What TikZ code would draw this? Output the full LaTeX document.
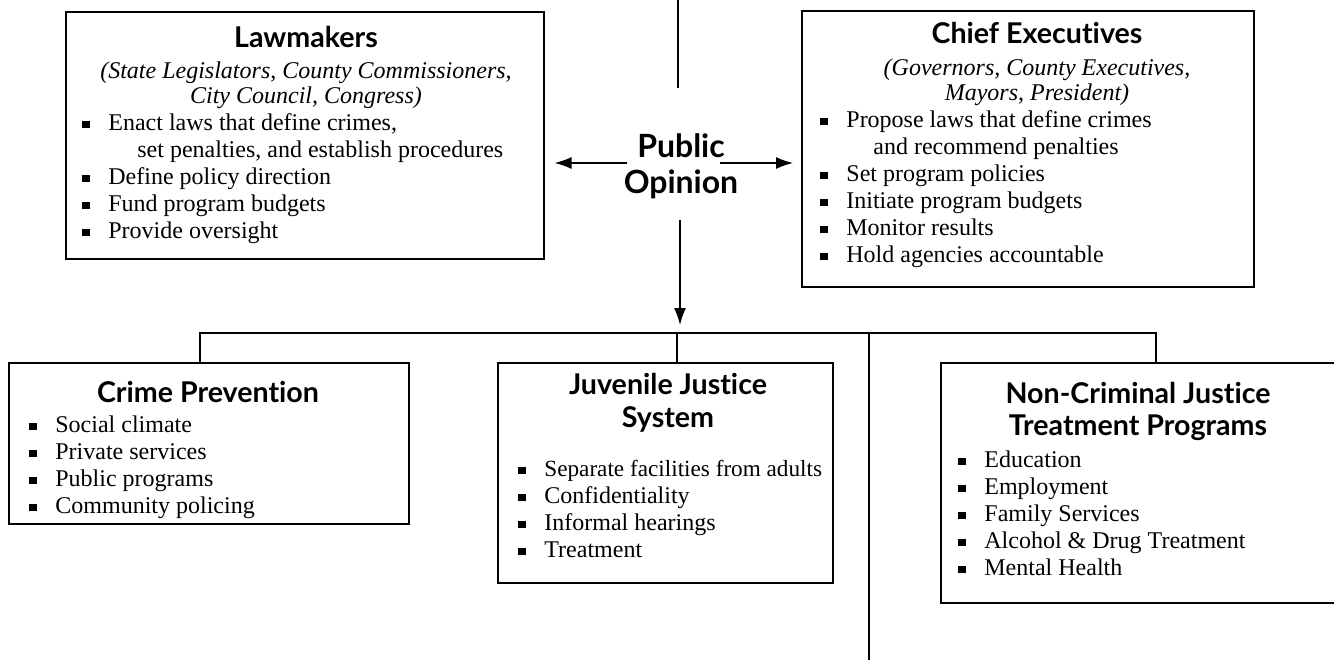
\documentclass[tikz,border=0pt]{standalone}
\usepackage{fontspec}
\setmainfont{Liberation Serif}
\newfontfamily\headfont[Ligatures=NoCommon]{Lato}
\usetikzlibrary{arrows.meta,%
                positioning}

\newcommand{\sqbul}{\makebox[13pt][l]{\rule[0.8pt]{3.8pt}{3.8pt}}}

\tikzset{
  box/.style={draw, line width=0.8pt, rectangle, inner sep=0pt, anchor=north west},
  head/.style={anchor=base, inner sep=0pt, font=\fontsize{14.3}{17}\headfont\bfseries},
  bighead/.style={anchor=base, inner sep=0pt, font=\fontsize{16}{19}\headfont\bfseries},
  sub/.style={anchor=base, inner sep=0pt, font=\fontsize{12}{14}\itshape},
  item/.style={anchor=base west, inner sep=0pt, font=\fontsize{12}{14}\selectfont},
  link/.style={line width=0.7pt},
  arr/.style={line width=0.7pt, -{Latex[length=8.5pt,width=6pt]}}
}

\begin{document}
\begin{tikzpicture}[x=0.5pt,y=-0.5pt]
\useasboundingbox (0,0) rectangle (1334,659);

% boxes
\node[box, minimum width=239pt, minimum height=123.5pt] (law) at (65,11) {};
\node[box, minimum width=226pt, minimum height=138pt] (chief) at (801,10) {};
\node[box, minimum width=200pt, minimum height=80.5pt] (prev) at (8,362) {};
\node[box, minimum width=167.5pt, minimum height=110pt] (juv) at (497,362) {};
\node[box, minimum width=198.5pt, minimum height=120pt] (nonc) at (940,362) {};

% lawmakers
\node[head] (lawhead) at (306,47) {Lawmakers};
\node[sub] (lawsub1) at (306,78) {(State Legislators, County Commissioners,};
\node[sub] (lawsub2) at (306,103) {City Council, Congress)};
\node[item] (law1) at (82,130) {\sqbul Enact laws that define crimes,};
\node[item] (law1b) at (137,157) {set penalties, and establish procedures};
\node[item] (law2) at (82,184) {\sqbul Define policy direction};
\node[item] (law3) at (82,211) {\sqbul Fund program budgets};
\node[item] (law4) at (82,238) {\sqbul Provide oversight};

% chief executives
\node[head] (chiefhead) at (1037,43) {Chief Executives};
\node[sub] (chiefsub1) at (1037,75) {(Governors, County Executives,};
\node[sub] (chiefsub2) at (1037,100) {Mayors, President)};
\node[item] (chief1) at (820,127) {\sqbul Propose laws that define crimes};
\node[item] (chief1b) at (873,154) {and recommend penalties};
\node[item] (chief2) at (820,181) {\sqbul Set program policies};
\node[item] (chief3) at (820,208) {\sqbul Initiate program budgets};
\node[item] (chief4) at (820,235) {\sqbul Monitor results};
\node[item] (chief5) at (820,262) {\sqbul Hold agencies accountable};

% public opinion
\node[bighead] (pubtxt) at (681,157) {Public};
\node[bighead] (opintxt) at (681,193) {Opinion};

% crime prevention
\node[head] (prevhead) at (208,402) {Crime Prevention};
\node[item] (prev1) at (29,432) {\sqbul Social climate};
\node[item] (prev2) at (29,459) {\sqbul Private services};
\node[item] (prev3) at (29,486) {\sqbul Public programs};
\node[item] (prev4) at (29,513) {\sqbul Community policing};

% juvenile justice
\node[head] (juvhead1) at (668,394) {Juvenile Justice};
\node[head] (juvhead2) at (668,427) {System};
\node[item] (juv1) at (518,476) {\sqbul\fontsize{11.6}{14}\selectfont Separate facilities from adults};
\node[item] (juv2) at (518,503) {\sqbul Confidentiality};
\node[item] (juv3) at (518,530) {\sqbul Informal hearings};
\node[item] (juv4) at (518,557) {\sqbul Treatment};

% non-criminal justice
\node[head] (nonchead1) at (1138,403) {Non-Criminal Justice};
\node[head] (nonchead2) at (1138,435) {Treatment Programs};
\node[item] (nonc1) at (958,467) {\sqbul Education};
\node[item] (nonc2) at (958,494) {\sqbul Employment};
\node[item] (nonc3) at (958,521) {\sqbul Family Services};
\node[item] (nonc4) at (958,548) {\sqbul Alcohol \& Drug Treatment};
\node[item] (nonc5) at (958,575) {\sqbul Mental Health};

% connectors
\coordinate (top) at (678,0);
\coordinate (topend) at (678,88);
\coordinate (oleft) at (627,163);
\coordinate (oright) at (720,163);
\coordinate (dstart) at (680,220);
\coordinate (busL) at (200,333);
\coordinate (busJ) at (677,333);
\coordinate (busD) at (869,333);
\coordinate (busR) at (1156,333);
\coordinate (offpage) at (869,662);

\draw[link] (top) -- (topend);
\draw[arr, shorten >=5pt] (oleft) -- (oleft -| law.east);
\draw[arr, shorten >=4pt] (oright) -- (oright -| chief.west);
\draw[arr, shorten >=4pt] (dstart) -- (dstart |- busL);
\draw[link] (busL |- prev.north) -- (busL) -- (busR) -- (busR |- nonc.north);
\draw[link] (busJ) -- (busJ |- juv.north);
\draw[link] (busD) -- (offpage);

\end{tikzpicture}
\end{document}
